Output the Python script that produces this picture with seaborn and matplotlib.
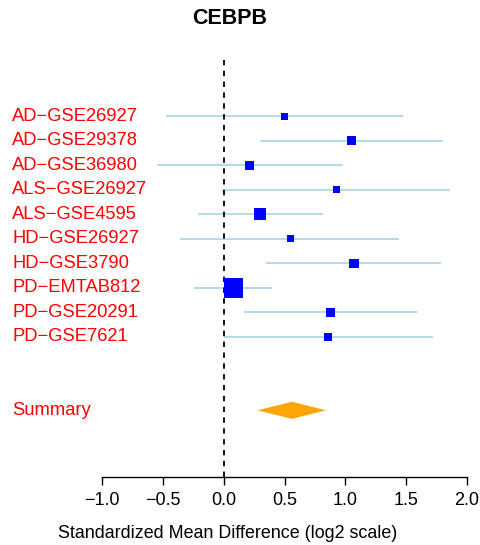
import numpy as np
import pandas as pd
import matplotlib
matplotlib.use("Agg")
import matplotlib.pyplot as plt
import matplotlib.transforms as mtransforms
import seaborn as sns

# studies in the meta-analysis (top to bottom)
studies = ["AD\u2212GSE26927", "AD\u2212GSE29378", "AD\u2212GSE36980", "ALS\u2212GSE26927",
           "ALS\u2212GSE4595", "HD\u2212GSE26927", "HD\u2212GSE3790", "PD\u2212EMTAB812",
           "PD\u2212GSE20291", "PD\u2212GSE7621"]
effect = [0.50, 1.05, 0.21, 0.93, 0.30, 0.55, 1.07, 0.08, 0.88, 0.86]
ci_low = [-0.47, 0.30, -0.55, -0.01, -0.21, -0.36, 0.35, -0.24, 0.17, 0.00]
ci_high = [1.47, 1.80, 0.98, 1.86, 0.82, 1.44, 1.79, 0.40, 1.59, 1.72]
weights = [4.1, 7.5, 7.0, 4.5, 13.9, 4.9, 8.0, 35.8, 8.0, 6.4]

summary_effect = 0.56
summary_low = 0.28
summary_high = 0.84

sns.set_style("white")
plt.rcParams['font.family'] = ['Liberation Sans', 'DejaVu Sans']
plt.rcParams['text.color'] = 'black'
plt.rcParams['xtick.color'] = 'black'

W, H = 480, 545
fig = plt.figure(figsize=(W / 100, H / 100), dpi=100)
ax = fig.add_axes([102 / W, (H - 476.7) / H, 365 / W, (476.7 - 60) / H])

df = pd.DataFrame({"study": studies, "effect": effect, "lo": ci_low,
                   "hi": ci_high, "weight": weights, "row": np.arange(len(studies))})
summary_row = len(studies) + 2

# confidence intervals
ax.hlines(df["row"], df["lo"], df["hi"], color="#ADD8E6", lw=1.3, zorder=1)

# study boxes, area proportional to weight
sns.scatterplot(data=df, x="effect", y="row", size="weight",
                sizes=(0, 201), size_norm=(0, max(weights)),
                marker="s", color="#0000FF", edgecolor="none",
                legend=False, ax=ax, zorder=3)

# summary diamond
h = 0.35
ax.fill([summary_low, summary_effect, summary_high, summary_effect],
        [summary_row, summary_row - h, summary_row, summary_row + h],
        color="#FFA500", lw=0, zorder=3)

# null line
ax.axvline(0, color="black", ls=(0, (3, 3)), lw=1.3, zorder=2)

ax.set_xlim(-1, 2)
ax.set_ylim(14.71, -2.30)
ax.set_yticks([])
ax.set_xticks(np.arange(-1, 2.01, 0.5))
ax.set_xticklabels([f"{t:.1f}".replace("-", "\u2212") for t in np.arange(-1, 2.01, 0.5)])
ax.tick_params(axis="x", direction="out", length=6, width=1, pad=5,
               labelsize=13, bottom=True, color="black", labelcolor="black")
ax.set_xlabel("")
ax.set_ylabel("")
for s in ["left", "top", "right"]:
    ax.spines[s].set_visible(False)
ax.spines["bottom"].set_color("black")
ax.spines["bottom"].set_linewidth(1)

trans = mtransforms.blended_transform_factory(fig.transFigure, ax.transData)
for r, name in zip(df["row"], studies):
    ax.text(12 / W, r, name, transform=trans, ha="left", va="center",
            color="#FF0000", fontsize=13.2, clip_on=False)
ax.text(12 / W, summary_row, "Summary", transform=trans, ha="left", va="center",
        color="#FF0000", fontsize=13.2, clip_on=False)

fig.text(230 / W, 1 - 19 / H, "CEBPB", ha="center", va="center",
         fontsize=15.5, fontweight="bold", color="black")
fig.text(228 / W, 1 - 533 / H, "Standardized Mean Difference (log2 scale)",
         ha="center", va="center", fontsize=12.9, color="black")

fig.savefig("out.png", dpi=100, facecolor="white")
